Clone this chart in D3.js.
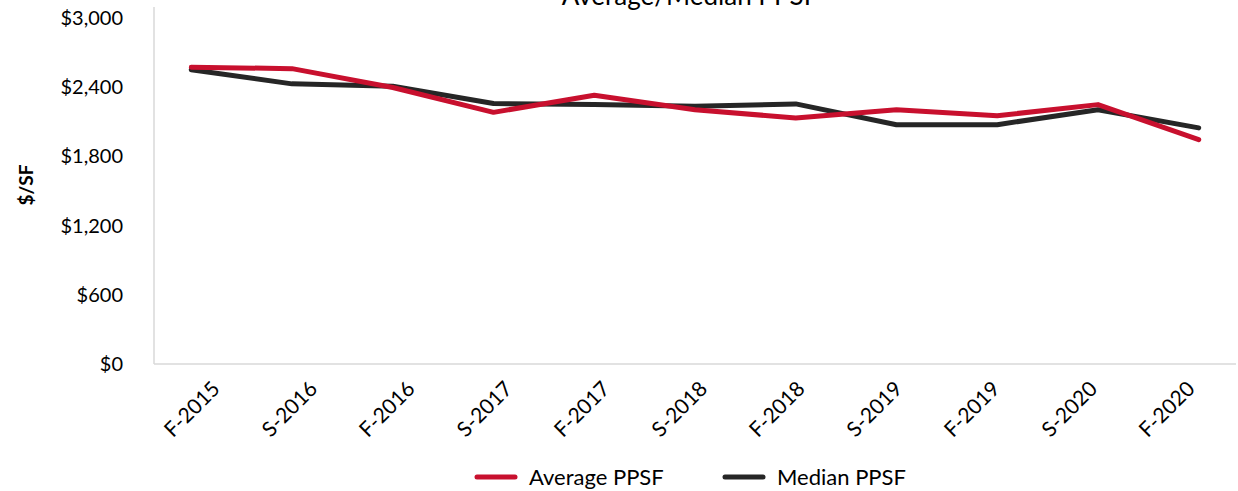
<!DOCTYPE html>
<html>
<head>
<meta charset="utf-8">
<script src="https://cdn.jsdelivr.net/npm/d3@7"></script>
<style>
  html, body { margin: 0; padding: 0; background: #fff; }
  svg { display: block; font-family: Lato, "Open Sans", sans-serif; }
</style>
</head>
<body>
<div id="chart"></div>
<script>
const periods = ['F-2015', 'S-2016', 'F-2016', 'S-2017', 'F-2017', 'S-2018', 'F-2018', 'S-2019', 'F-2019', 'S-2020', 'F-2020'];
const averagePpsf = [2573, 2561, 2397, 2182, 2330, 2205, 2133, 2205, 2153, 2249, 1945];
const medianPpsf = [2552, 2429, 2408, 2258, 2249, 2234, 2255, 2075, 2075, 2205, 2047];
const yTicks = [0, 600, 1200, 1800, 2400, 3000];
const seriesNames = ['Average PPSF', 'Median PPSF'];

const width = 1238, height = 491;
const margin = { top: 18, right: 2, bottom: 127, left: 154 };
const colors = ['#c8102e', '#262626'];

const svg = d3.select('#chart').append('svg')
  .attr('width', width)
  .attr('height', height);

const x = d3.scalePoint()
  .domain(periods)
  .range([margin.left, width - margin.right])
  .padding(0.37);

// category labels sit on a slightly tighter spacing than the points
const xLabels = d3.scalePoint()
  .domain(periods)
  .range([margin.left, width - margin.right])
  .padding(0.55);

const y = d3.scaleLinear()
  .domain([0, 3000])
  .range([height - margin.bottom, margin.top]);

// title (cut off at the top in the original)
svg.append('text')
  .attr('x', 690)
  .attr('y', 5)
  .attr('text-anchor', 'middle')
  .style('font-size', '26px')
  .attr('fill', '#000')
  .text('Average/Median PPSF');

// axes lines
svg.append('line')
  .attr('x1', margin.left).attr('x2', margin.left)
  .attr('y1', 7).attr('y2', y(0))
  .attr('stroke', '#d9d9d9').attr('stroke-width', 1.5);
svg.append('line')
  .attr('x1', margin.left).attr('x2', width - margin.right)
  .attr('y1', y(0)).attr('y2', y(0))
  .attr('stroke', '#d9d9d9').attr('stroke-width', 1.5);

// y axis
const yAxis = svg.append('g')
  .attr('transform', `translate(${margin.left},0)`)
  .call(d3.axisLeft(y).tickValues(yTicks).tickSize(0).tickPadding(31)
    .tickFormat(d => '$' + d3.format(',')(d)));
yAxis.select('.domain').remove();
yAxis.selectAll('text')
  .style('font-size', '20px')
  .style('font-family', 'Lato, sans-serif')
  .attr('fill', '#000');

// x axis
const xAxis = svg.append('g')
  .attr('transform', `translate(-3,${y(0)})`)
  .call(d3.axisBottom(xLabels).tickSize(0));
xAxis.select('.domain').remove();
xAxis.selectAll('text')
  .attr('transform', 'translate(14,24)rotate(-45)')
  .attr('dy', 0)
  .style('text-anchor', 'end')
  .style('font-size', '21px')
  .style('font-family', 'Lato, sans-serif')
  .attr('fill', '#000');

// y label
svg.append('text')
  .attr('transform', `translate(33,185)rotate(-90)`)
  .attr('text-anchor', 'middle')
  .style('font-size', '19px')
  .style('font-weight', 'bold')
  .attr('fill', '#000')
  .text('$/SF');

// lines
const line = d3.line()
  .x((d, i) => x(periods[i]))
  .y(d => y(d));

[medianPpsf, averagePpsf].forEach((vals, k) => {
  svg.append('path')
    .datum(vals)
    .attr('fill', 'none')
    .attr('stroke', k === 0 ? colors[1] : colors[0])
    .attr('stroke-width', 5)
    .attr('stroke-linejoin', 'round')
    .attr('stroke-linecap', 'round')
    .attr('d', line);
});

// legend
const legendX = [477, 725];
seriesNames.forEach((name, i) => {
  const g = svg.append('g').attr('transform', `translate(${legendX[i]},477)`);
  g.append('line')
    .attr('x1', 0).attr('x2', 38)
    .attr('stroke', colors[i]).attr('stroke-width', 5)
    .attr('stroke-linecap', 'round');
  g.append('text')
    .attr('x', 52).attr('y', 8)
    .style('font-size', '22px')
    .attr('fill', '#000')
    .text(name);
});
</script>
</body>
</html>
